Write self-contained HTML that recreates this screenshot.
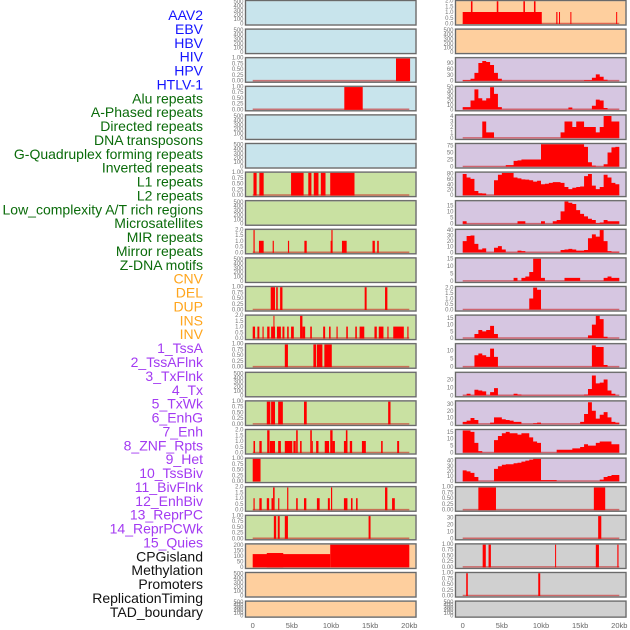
<!DOCTYPE html>
<html><head><meta charset="utf-8"><style>
html,body{margin:0;padding:0;background:#fff;width:630px;height:630px;overflow:hidden}
svg{display:block;font-family:"Liberation Sans",sans-serif}
</style></head><body>
<svg id="chart" width="630" height="630" viewBox="0 0 630 630" xmlns="http://www.w3.org/2000/svg"></svg>
<script>
// ---- labels ----
const trackLabels = ["AAV2","EBV","HBV","HIV","HPV","HTLV-1","Alu repeats","A-Phased repeats","Directed repeats","DNA transposons","G-Quadruplex forming repeats","Inverted repeats","L1 repeats","L2 repeats","Low_complexity A/T rich regions","Microsatellites","MIR repeats","Mirror repeats","Z-DNA motifs","CNV","DEL","DUP","INS","INV","1_TssA","2_TssAFlnk","3_TxFlnk","4_Tx","5_TxWk","6_EnhG","7_Enh","8_ZNF_Rpts","9_Het","10_TssBiv","11_BivFlnk","12_EnhBiv","13_ReprPC","14_ReprPCWk","15_Quies","CPGisland","Methylation","Promoters","ReplicationTiming","TAD_boundary"];
const labelGroups = ["v","v","v","v","v","v","r","r","r","r","r","r","r","r","r","r","r","r","r","s","s","s","s","s","c","c","c","c","c","c","c","c","c","c","c","c","c","c","c","o","o","o","o","o"];
const xTickValues = [0,5,10,15,20];
const xTickLabels = ["0","5kb","10kb","15kb","20kb"];

// ---- left column bar data [startKb, endKb, height] ----
const leftHIV = [[18.3,20.1,1]];
const leftHPV = [[11.7,14.05,1]];
const leftL1 = [[0.1,0.5,1],[0.85,1.4,1],[4.9,6.5,1],[7.1,7.5,1],[7.8,8.4,1],[8.7,9.3,1],[9.9,13.0,1]];
const leftRow8 = [[0.1,0.25,2],[0.8,1.4,1],[2.55,2.7,1],[4.5,4.65,1],[6.6,6.9,1],[9.95,10.2,1],[10.05,10.2,2],[11.4,12.0,1],[15.3,15.6,1],[15.9,16.1,1]];
const leftRow10 = [[2.3,2.85,1],[3.0,3.2,1],[3.5,3.8,1],[14.3,14.55,1],[16.9,17.2,1]];
const leftRow11 = [[0,0.3,1],[0.6,0.85,1],[1.25,1.4,1],[1.85,2.15,1],[2.35,2.85,1],[2.65,2.75,2],[3.1,3.6,1],[3.8,4.05,1],[4.4,4.6,1],[4.9,5.25,1],[6.05,6.35,2],[6.35,6.7,1],[7.35,7.55,1],[9.0,9.25,1],[9.75,9.95,1],[10.7,10.85,1],[11.95,12.15,1],[13.1,13.3,1],[13.65,14.25,1],[15.55,15.85,1],[16.1,16.7,1],[17.2,17.35,1],[17.95,19.3,1],[19.75,19.9,1]];
const leftRow12 = [[4.1,4.5,1],[7.75,8.1,1],[8.2,8.9,1],[9.15,10.1,1]];
const leftRow14 = [[1.8,2.25,1],[2.35,2.85,1],[3.25,3.85,1],[6.55,6.9,1],[17.3,17.6,1]];
const leftRow15 = [[0.1,0.3,1],[0.85,1.15,1],[1.85,2.15,2],[2.2,2.85,1],[3.25,3.6,1],[4.1,5.05,1],[5.2,5.5,1],[5.55,5.75,2],[6.05,6.25,1],[7.35,7.55,2],[7.55,7.65,1],[8.1,8.4,1],[9.2,9.75,1],[9.9,10.2,2],[10.2,10.5,1],[11.65,12.1,1],[11.9,12.1,2],[12.4,12.7,1],[13.95,14.45,1],[16.4,16.6,1],[18.45,18.7,1]];
const leftRow16 = [[0,1.0,1]];
const leftRow17 = [[0.1,0.25,1],[0.85,1.15,1],[1.8,2.1,1],[2.4,2.6,1],[2.6,2.8,2],[3.25,3.4,1],[4.4,4.55,2],[5.55,5.75,1],[6.55,6.85,1],[8.2,8.55,1],[9.6,9.85,1],[10.0,10.15,2],[11.65,12.1,1],[12.55,12.75,1],[13.2,13.4,1],[16.9,17.2,2],[17.8,18.15,1]];
const leftRow18 = [[2.7,3.0,1],[3.2,3.45,1],[4.1,4.5,1],[14.8,15.05,1]];
const leftMethyl = [[0,9.9,118],[1.8,3.9,128],[9.9,20,220]];

// ---- right column bar data ----
const rightRow0 = [[0,10.1,1],[1.05,1.25,2],[4.35,4.55,2],[7.75,7.95,2],[9.1,9.3,2],[11.95,12.1,1],[12.3,12.42,1],[13.75,13.88,1],[19.6,19.72,1]];
const rightRow17 = [[2.0,4.25,1],[16.75,18.2,1]];
const rightRow18 = [[17.3,17.7,40]];
const rightRow19 = [[2.55,2.95,1],[3.3,3.6,1],[11.8,11.9,1],[17.0,17.4,1],[19.75,19.9,1]];
const rightRow20 = [[0.45,0.65,1],[9.65,9.9,1]];

// ---- right column binned values (0.5kb bins, 0..20kb) ----
const rBins2 = [3,3,10,40,90,100,95,80,40,10,0,0,0,0,0,0,0,0,0,0,0,0,0,0,0,0,0,0,0,0,0,3,3,15,32,20,5,0,0,0];
const rBins3 = [5,5,20,45,25,20,25,50,35,5,0,0,0,0,0,0,0,0,0,0,0,0,0,0,0,0,0,4,0,0,0,0,0,8,22,20,3,0,0,0];
const rBins4 = [0,0,0,0,0,3,1,1,0,0,0,0,0,0,0,0,0,0,0,0,0,0,0,0,0,1,3,3,2,3,3,2,2,2,1,2,4,4,3,3];
const rBins5 = [0,0,0,0,0,0,0,0,0,0,0,5,5,20,22,25,25,25,25,25,90,88,86,85,85,86,85,85,86,85,86,70,15,3,0,0,8,50,68,70];
const rBins6 = [78,65,60,15,7,6,0,0,55,75,82,82,82,65,62,58,57,55,50,53,40,42,45,48,48,45,30,22,27,30,32,70,78,35,22,30,75,65,45,40];
const rBins7 = [2,0,0,0,0,0,0,0,0,0,0,0,0,0,2,2,0,0,0,0,2,0,0,2,3,10,19,17,16,11,8,6,4,3,0.5,1,3,2,2,2];
const rBins8 = [20,29,30,15,5,7,0,0,8,11,5,0,0,0,3,2,0,0,0,0,0,0,0,0,0,4,5,6,5,3,3,4,25,32,28,40,20,2,1,1];
const rBins9 = [0,0,0,0,0,0,0,0,0,0,0,0,0,2,0,2,3,6,15,15,2,0,0,0,0,0,2,2,2,2,0,0,0,0,0,0,2,3,2,2];
const rBins10 = [0,0,0,0,0,0,0,0,0,0,0,0,0,0,0,0,0,1,2,1.8,0,0,0,0,0,0,0,0,0,0,0,0,0,0,0,0,0,0,0,0];
const rBins11 = [0,0,0,3,6,5,6,9,3,0,0,0,0,0,0,0,0,0,0,0,0,0,0,0,0,0,0,0,0,0,0,0,2,10,18,14,1,0,0,0];
const rBins12 = [0,0,0,7,8,7,6,11,6,0,0,0,0,0,0,0,0,0,0,0,0,0,0,0,0,0,0,0,0,0,0,0,0,13,12,12,1,0,0,0];
const rBins13 = [0,2,0,7,6,5,0,4,9,0,0,0,0,2,1,0,0,0,0,0,0,0,0,0,0,0,0,0,0,0,0,1,8,25,15,16,20,6,2,0];
const rBins14 = [3,5,9,6,0,0,0,2,10,10,7,6,5,3,3,0,0,0,1,2,0,0,0,0,0,0,0,0,0,0,3,15,33,20,8,14,18,10,3,2];
const rBins15 = [16,16,15,7,1,0,0,0,9,12,14,15,14,14,13,14,14,11,8,7,0,0,0,0,2,2,2,2,3,3,4,6,5,5,7,8,8,8,6,6];
const rBins16 = [21,19,16,8,0,0,0,0,24,29,32,33,33,35,36,38,40,42,44,44,2,2,2,2,0,0,0,0,0,0,0,0,0,0,0,3,8,10,12,12];

// ---- axis tick sets ----
const ticksEmpty = [0,100,200,300,400,500];
const ticksUnit = [0,0.25,0.5,0.75,1.0];
const ticksTwo = [0,0.5,1.0,1.5,2.0];

const BG = {blue:"#c8e4ec", green:"#c9e1a2", peach:"#fecf9e", purple:"#d6c6e1", grey:"#d0d0d0"};
const fmtUnit = v => v.toFixed(2);
const fmtTwo = v => v.toFixed(1);
const fmtInt = v => String(v);

const leftPanels = [
 {name:"aav2",bg:"blue",ticks:ticksEmpty,ymax:525,fmt:fmtInt},
 {name:"ebv",bg:"blue",ticks:ticksEmpty,ymax:525,fmt:fmtInt},
 {name:"hiv",bg:"blue",ticks:ticksUnit,ymax:1,fmt:fmtUnit,bars:leftHIV,base:true},
 {name:"hpv",bg:"blue",ticks:ticksUnit,ymax:1,fmt:fmtUnit,bars:leftHPV,base:true},
 {name:"hbv",bg:"blue",ticks:ticksEmpty,ymax:525,fmt:fmtInt},
 {name:"htlv",bg:"blue",ticks:ticksEmpty,ymax:525,fmt:fmtInt},
 {name:"l1-repeats",bg:"green",ticks:ticksUnit,ymax:1,fmt:fmtUnit,bars:leftL1,base:true},
 {name:"repeat-empty-a",bg:"green",ticks:ticksEmpty,ymax:525,fmt:fmtInt},
 {name:"repeat-8",bg:"green",ticks:ticksTwo,ymax:2,fmt:fmtTwo,bars:leftRow8,base:true},
 {name:"repeat-empty-b",bg:"green",ticks:ticksEmpty,ymax:525,fmt:fmtInt},
 {name:"repeat-10",bg:"green",ticks:ticksUnit,ymax:1,fmt:fmtUnit,bars:leftRow10,base:true},
 {name:"repeat-11",bg:"green",ticks:ticksTwo,ymax:2,fmt:fmtTwo,bars:leftRow11,base:true},
 {name:"repeat-12",bg:"green",ticks:ticksUnit,ymax:1,fmt:fmtUnit,bars:leftRow12,base:true},
 {name:"repeat-empty-c",bg:"green",ticks:ticksEmpty,ymax:525,fmt:fmtInt},
 {name:"repeat-14",bg:"green",ticks:ticksUnit,ymax:1,fmt:fmtUnit,bars:leftRow14,base:true},
 {name:"repeat-15",bg:"green",ticks:ticksTwo,ymax:2,fmt:fmtTwo,bars:leftRow15,base:true},
 {name:"repeat-16",bg:"green",ticks:ticksUnit,ymax:1,fmt:fmtUnit,bars:leftRow16,base:false},
 {name:"repeat-17",bg:"green",ticks:ticksTwo,ymax:2,fmt:fmtTwo,bars:leftRow17,base:true},
 {name:"repeat-18",bg:"green",ticks:ticksUnit,ymax:1,fmt:fmtUnit,bars:leftRow18,base:true},
 {name:"methylation",bg:"peach",ticks:[0,50,100,150,200],ymax:212,fmt:fmtInt,bars:leftMethyl},
 {name:"promoters-empty",bg:"peach",ticks:ticksEmpty,ymax:525,fmt:fmtInt},
 {name:"tad-empty",bg:"peach",ticks:ticksEmpty,ymax:525,fmt:fmtInt}
];
const rightPanels = [
 {name:"sv-a",bg:"peach",ticks:ticksTwo,ymax:2,fmt:fmtTwo,bars:rightRow0,base:true},
 {name:"sv-empty",bg:"peach",ticks:ticksEmpty,ymax:525,fmt:fmtInt},
 {name:"chrom-2",bg:"purple",ticks:[0,30,60,90],ymax:117,fmt:fmtInt,bins:rBins2},
 {name:"chrom-3",bg:"purple",ticks:[0,10,20,30,40,50],ymax:52,fmt:fmtInt,bins:rBins3},
 {name:"chrom-4",bg:"purple",ticks:[0,1,2,3,4],ymax:4.2,fmt:fmtInt,bins:rBins4},
 {name:"chrom-5",bg:"purple",ticks:[0,25,50,75],ymax:82,fmt:fmtInt,bins:rBins5},
 {name:"chrom-6",bg:"purple",ticks:[0,20,40,60,80],ymax:85,fmt:fmtInt,bins:rBins6},
 {name:"chrom-7",bg:"purple",ticks:[0,5,10,15],ymax:18.7,fmt:fmtInt,bins:rBins7},
 {name:"chrom-8",bg:"purple",ticks:[0,10,20,30,40],ymax:41,fmt:fmtInt,bins:rBins8},
 {name:"chrom-9",bg:"purple",ticks:[0,5,10,15],ymax:15.5,fmt:fmtInt,bins:rBins9},
 {name:"chrom-10",bg:"purple",ticks:ticksTwo,ymax:2.1,fmt:fmtTwo,bins:rBins10},
 {name:"chrom-11",bg:"purple",ticks:[0,5,10,15],ymax:17,fmt:fmtInt,bins:rBins11},
 {name:"chrom-12",bg:"purple",ticks:[0,5,10],ymax:14,fmt:fmtInt,bins:rBins12},
 {name:"chrom-13",bg:"purple",ticks:[0,10,20],ymax:29,fmt:fmtInt,bins:rBins13},
 {name:"chrom-14",bg:"purple",ticks:[0,10,20,30],ymax:35,fmt:fmtInt,bins:rBins14},
 {name:"chrom-15",bg:"purple",ticks:[0,5,10,15],ymax:16.7,fmt:fmtInt,bins:rBins15},
 {name:"chrom-16",bg:"purple",ticks:[0,10,20,30,40],ymax:45,fmt:fmtInt,bins:rBins16},
 {name:"grey-17",bg:"grey",ticks:ticksUnit,ymax:1,fmt:fmtUnit,bars:rightRow17,base:true},
 {name:"grey-18",bg:"grey",ticks:[0,10,20,30],ymax:33,fmt:fmtInt,bars:rightRow18,base:true},
 {name:"grey-19",bg:"grey",ticks:ticksUnit,ymax:1,fmt:fmtUnit,bars:rightRow19,base:true},
 {name:"grey-20",bg:"grey",ticks:ticksUnit,ymax:1,fmt:fmtUnit,bars:rightRow20,base:true},
 {name:"grey-empty",bg:"grey",ticks:ticksEmpty,ymax:525,fmt:fmtInt}
];

const svg = document.getElementById('chart');
const NS = "http://www.w3.org/2000/svg";
function mk(tag, attrs, parent){
  const e = document.createElementNS(NS, tag);
  for (const k in attrs) e.setAttribute(k, attrs[k]);
  (parent||svg).appendChild(e);
  return e;
}
const GROUP_COLORS = {v:"#1414ff", r:"#0a6b0a", s:"#ffa51c", c:"#a33af2", o:"#111111"};

// left labels
trackLabels.forEach((t,i)=>{
  const el = mk('text',{x:203,y:15+i*13.88+5,'text-anchor':'end','font-size':'14',fill:GROUP_COLORS[labelGroups[i]]});
  el.textContent = t;
  
  
});

function drawColumn(panels, colX, zeroX, side){
  const W = 170.5, KB = 7.83;
  const xs = kb => zeroX + kb*KB;
  panels.forEach((p,i)=>{
    const top = 0.5 + 28.6*i;
    const h = (i===21) ? 16 : 24.5;
    const y0 = top + h - 1.5;
    const ys = v => y0 - Math.min(v, p.ymax*1.02)/p.ymax*(y0-top);
    const g = mk('g',{});
    
    
    const clipId = 'c'+side+i;
    const cp = mk('clipPath',{id:clipId},g);
    mk('rect',{x:colX,y:top,width:W,height:h},cp);
    const bg = mk('rect',{x:colX,y:top,width:W,height:h,fill:BG[p.bg]},g);
    
    
    const inner = mk('g',{'clip-path':'url(#'+clipId+')'},g);
    if (p.base){
      const bl = mk('line',{x1:xs(0),x2:xs(20),y1:y0,y2:y0,stroke:'rgba(200,20,20,0.55)','stroke-width':1.6},inner);
      
      
    }
    if (p.bars){
      p.bars.forEach(b=>{
        const r = mk('rect',{x:xs(b[0]),y:ys(b[2]),width:Math.max(1,xs(b[1])-xs(b[0])),height:y0-ys(b[2])+0.5,fill:'#ff0000'},inner);
        
        
      });
    }
    if (p.bins){
      let d = 'M'+xs(0)+','+y0;
      p.bins.forEach((v,k)=>{
        d += ' L'+xs(k*0.5)+','+ys(v)+' L'+xs((k+1)*0.5)+','+ys(v);
      });
      d += ' L'+xs(20)+','+y0+' Z';
      mk('line',{x1:xs(0),x2:xs(20),y1:y0,y2:y0,stroke:'rgba(200,20,20,0.55)','stroke-width':1.6},inner);
      const a = mk('path',{d:d,fill:'#ff0000'},inner);
      
      
    }
    mk('rect',{x:colX,y:top,width:W,height:h,fill:'none',stroke:'#9a9a9a','stroke-width':1.6},g);
    mk('rect',{x:colX,y:top,width:W,height:h,fill:'none',stroke:'#5e5e5e','stroke-width':0.8},g);
    p.ticks.forEach(t=>{
      const tx = mk('text',{x:colX-2,y:ys(t)+2,'text-anchor':'end','font-size':'6',fill:'#777'},g);
      tx.textContent = p.fmt(t);
      
      
    });
  });
  xTickValues.forEach((v,k)=>{
    const t = mk('text',{x:xs(v),y:628,'text-anchor':'middle','font-size':'7.5',fill:'#666'});
    t.textContent = xTickLabels[k];
    
    
  });
}
drawColumn(leftPanels, 245.5, 252.7, 'left');
drawColumn(rightPanels, 455.5, 462.7, 'right');
</script>
</body></html>
